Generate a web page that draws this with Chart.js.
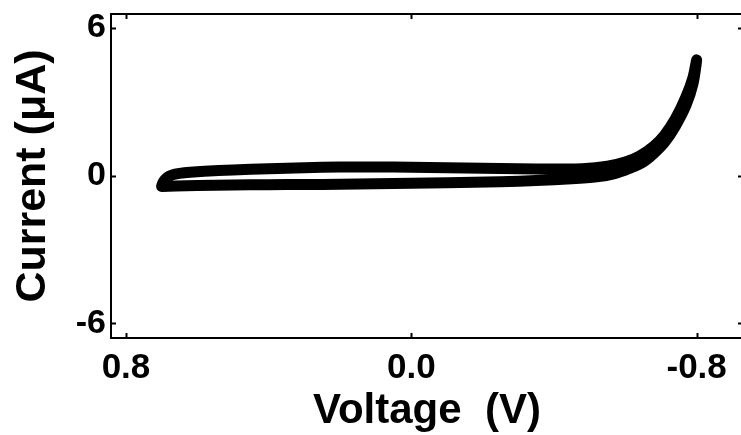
<!DOCTYPE html>
<html>
<head>
<meta charset="utf-8">
<script src="https://cdn.jsdelivr.net/npm/chart.js@4"></script>
<style>
  html, body { margin: 0; padding: 0; background: #fff; overflow: hidden; width: 741px; height: 435px; }
  #wrap { width: 746px; height: 445px; position: relative; }
  canvas { display: block; }
</style>
</head>
<body>
<div id="wrap"><canvas id="cv" width="746" height="445"></canvas></div>
<script>
// Cyclic voltammogram: forward scan toward negative potential, then back.
const voltageFwd = [0.700, 0.695, 0.685, 0.670, 0.650, 0.620, 0.580, 0.500, 0.400, 0.300, 0.200, 0.100, 0.000, -0.100, -0.200, -0.300, -0.400, -0.480, -0.550, -0.600, -0.640, -0.680, -0.710, -0.740, -0.770, -0.790, -0.800];
const currentFwd = [-0.42, -0.25, -0.08, 0.03, 0.09, 0.14, 0.18, 0.23, 0.28, 0.32, 0.35, 0.35, 0.34, 0.32, 0.30, 0.28, 0.27, 0.28, 0.38, 0.55, 0.80, 1.20, 1.65, 2.30, 3.20, 4.00, 4.70];

const voltageRev = [-0.790, -0.770, -0.740, -0.710, -0.680, -0.650, -0.610, -0.570, -0.520, -0.450, -0.350, -0.250, -0.100, 0.000, 0.100, 0.200, 0.300, 0.400, 0.500, 0.600, 0.660, 0.700];
const currentRev = [3.75, 2.85, 2.00, 1.35, 0.90, 0.55, 0.28, 0.08, -0.05, -0.13, -0.20, -0.25, -0.29, -0.31, -0.33, -0.35, -0.36, -0.37, -0.38, -0.40, -0.42, -0.44];

const xTicks = [0.8, 0.0, -0.8];
const yTicks = [6, 0, -6];
const xRange = [-0.93, 0.842];
const yRange = [-6.6, 6.57];

const points = [];
voltageFwd.forEach((v, i) => points.push({ x: v, y: currentFwd[i] }));
voltageRev.forEach((v, i) => points.push({ x: v, y: currentRev[i] }));

// Frame on all four sides with short inward-pointing ticks.
const frameTicks = {
  id: 'frameTicks',
  afterDraw(chart) {
    const { ctx, chartArea: a, scales: { x, y } } = chart;
    ctx.save();
    ctx.strokeStyle = '#000';
    ctx.lineWidth = 2;
    ctx.strokeRect(a.left, a.top, a.right - a.left, a.bottom - a.top);
    ctx.beginPath();
    xTicks.forEach(v => {
      const px = Math.round(x.getPixelForValue(v)) + 0.5;
      ctx.moveTo(px, a.bottom); ctx.lineTo(px, a.bottom - 5);
      ctx.moveTo(px, a.top); ctx.lineTo(px, a.top + 5);
    });
    yTicks.forEach(v => {
      const py = Math.round(y.getPixelForValue(v)) + 0.5;
      ctx.moveTo(a.left, py); ctx.lineTo(a.left + 5, py);
      ctx.moveTo(a.right, py); ctx.lineTo(a.right - 5, py);
    });
    ctx.stroke();
    ctx.restore();
  }
};

const FONT = 'Liberation Sans, Arial, sans-serif';

new Chart(document.getElementById('cv'), {
  type: 'scatter',
  data: {
    datasets: [{
      data: points,
      showLine: true,
      borderColor: '#000',
      borderWidth: 11,
      borderCapStyle: 'round',
      borderJoinStyle: 'round',
      tension: 0.25,
      pointRadius: 0,
      pointHoverRadius: 0
    }]
  },
  options: {
    responsive: false,
    animation: false,
    events: [],
    layout: { padding: { top: 14, right: 3, left: 0, bottom: 0 } },
    plugins: { legend: { display: false }, tooltip: { enabled: false } },
    scales: {
      x: {
        type: 'linear',
        reverse: true,
        min: xRange[0],
        max: xRange[1],
        afterBuildTicks: s => { s.ticks = xTicks.map(v => ({ value: v })); },
        afterFit: s => { s.height = 107; s.paddingLeft = 0; s.paddingRight = 0; },
        grid: { display: false, drawTicks: false },
        border: { display: true, color: '#000', width: 2 },
        ticks: {
          color: '#000',
          padding: 9,
          maxRotation: 0,
          font: { family: FONT, size: 35, weight: 'bold' },
          callback: v => v.toFixed(1)
        },
        title: {
          display: true,
          text: 'Voltage  (V)',
          color: '#000',
          padding: { top: 0, bottom: 8 },
          font: { family: FONT, size: 42, weight: 'bold' }
        }
      },
      y: {
        type: 'linear',
        min: yRange[0],
        max: yRange[1],
        afterBuildTicks: s => { s.ticks = yTicks.map(v => ({ value: v })); },
        afterFit: s => { s.width = 111; s.paddingTop = 0; s.paddingBottom = 0; },
        grid: { display: false, drawTicks: false },
        border: { display: true, color: '#000', width: 2 },
        ticks: {
          color: '#000',
          padding: 5,
          font: { family: FONT, size: 34, weight: 'bold' },
          callback: v => String(v)
        },
        title: {
          display: true,
          text: 'Current (\u03bcA)',
          color: '#000',
          padding: { top: 7, bottom: 0 },
          font: { family: FONT, size: 43, weight: 'bold' }
        }
      }
    }
  },
  plugins: [frameTicks]
});
</script>
</body>
</html>
